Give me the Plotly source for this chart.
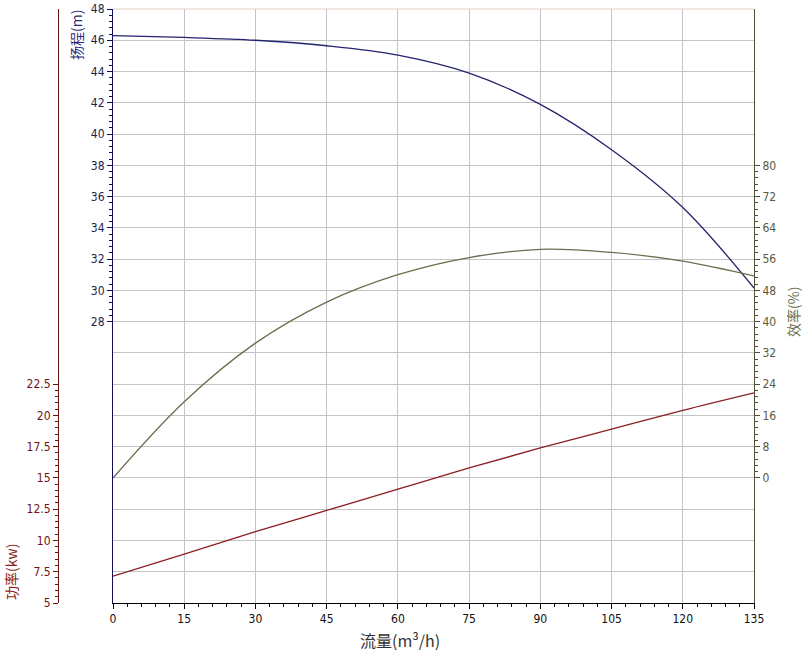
import plotly.graph_objects as go
import numpy as np

# ---- data ----
flow = [0, 15, 30, 45, 60, 75, 90, 105, 120, 135]
head = [46.3, 46.18, 46.0, 45.65, 45.05, 43.9, 41.9, 39.0, 35.3, 30.15]
efficiency = [0, 19.5, 34.5, 45.0, 52.0, 56.4, 58.5, 57.7, 55.5, 51.7]
power = [7.15, 8.9, 10.7, 12.4, 14.1, 15.8, 17.4, 18.9, 20.4, 21.8]

x_ticks = [0, 15, 30, 45, 60, 75, 90, 105, 120, 135]
head_ticks = [28, 30, 32, 34, 36, 38, 40, 42, 44, 46, 48]
power_ticks = [5, 7.5, 10, 12.5, 15, 17.5, 20, 22.5]
eff_ticks = [0, 8, 16, 24, 32, 40, 48, 56, 64, 72, 80]

HEAD_C = "#23236e"
EFF_C = "#6a6e4c"
POW_C = "#8a1e22"
GRID_C = "#c4c4c4"
TICKFONT = "DejaVu Sans Condensed, DejaVu Sans, Arial"
CJK = "Noto Sans CJK SC"

def minors(lo, hi, step, majors):
    vals = np.arange(lo, hi + 1e-9, step)
    return [round(float(v), 3) for v in vals if all(abs(v - m) > 1e-6 for m in majors)]

W, H = 803, 653
ml, mr, mt, mb = 0, 49, 9, 50
pw = W - ml - mr
ph = H - mt - mb
x0 = 113 / pw

fig = go.Figure()
# invisible trace so the grid axis is drawn
fig.add_trace(go.Scatter(x=[None], y=[None], yaxis="y4", showlegend=False, hoverinfo="skip"))
fig.add_trace(go.Scatter(x=flow, y=head, mode="lines", line=dict(color=HEAD_C, width=1.3, shape="spline"),
                         yaxis="y", showlegend=False, hoverinfo="skip"))
fig.add_trace(go.Scatter(x=flow, y=efficiency, mode="lines", line=dict(color=EFF_C, width=1.3, shape="spline"),
                         yaxis="y3", showlegend=False, hoverinfo="skip"))
fig.add_trace(go.Scatter(x=flow, y=power, mode="lines", line=dict(color=POW_C, width=1.3, shape="spline"),
                         yaxis="y2", showlegend=False, hoverinfo="skip"))

fig.update_layout(
    width=W, height=H,
    margin=dict(l=ml, r=mr, t=mt, b=mb, autoexpand=False),
    paper_bgcolor="white", plot_bgcolor="white",
    showlegend=False,
    xaxis=dict(
        domain=[x0, 1], range=[0, 135], tickvals=x_ticks,
        showgrid=True, gridcolor=GRID_C, gridwidth=1,
        showline=True, linecolor="#000000", linewidth=1,
        ticks="outside", ticklen=5, tickcolor="#000000",
        minor=dict(tickvals=minors(0, 135, 3, x_ticks), ticklen=3, tickcolor="#000000", showgrid=False),
        tickfont=dict(family=TICKFONT, size=12, color="#111111"),
        zeroline=False, fixedrange=True,
    ),
    yaxis=dict(
        range=[10, 48], tickvals=head_ticks, anchor="x",
        showgrid=False, zeroline=False,
        showline=True, linecolor="#10105a", linewidth=1,
        ticks="outside", ticklen=5, tickcolor="#10105a",
        minor=dict(tickvals=minors(28, 48, 0.4, head_ticks), ticklen=3, tickcolor="#10105a"),
        tickfont=dict(family=TICKFONT, size=12, color="#1e1e4e"),
    ),
    yaxis2=dict(
        range=[5, 52.5], tickvals=power_ticks, overlaying="y", anchor="free",
        position=58 / pw, side="left",
        showgrid=False, zeroline=False,
        showline=True, linecolor="#6a1010", linewidth=1,
        ticks="outside", ticklen=5, tickcolor="#6a1010",
        minor=dict(tickvals=minors(5, 22.5, 0.5, power_ticks), ticklen=3, tickcolor="#6a1010"),
        tickfont=dict(family=TICKFONT, size=12, color="#6e1418"),
    ),
    yaxis3=dict(
        range=[-32, 120], tickvals=eff_ticks, overlaying="y", anchor="x", side="right",
        showgrid=False, zeroline=False,
        showline=True, linecolor="#505036", linewidth=1,
        ticks="outside", ticklen=5, tickcolor="#505036",
        minor=dict(tickvals=minors(0, 80, 1.6, eff_ticks), ticklen=3, tickcolor="#505036"),
        tickfont=dict(family=TICKFONT, size=12, color="#5a5a3c"),
    ),
    yaxis4=dict(
        range=[0, 19], tickvals=list(range(1, 19)), overlaying="y", anchor="x",
        showgrid=True, gridcolor=GRID_C, gridwidth=1,
        showticklabels=False, ticks="", showline=False, zeroline=False,
    ),
)

# top border line
fig.add_shape(type="line", xref="x domain", yref="y domain", x0=0, x1=1, y0=1, y1=1,
              line=dict(color="#e2cfc6", width=1.2), layer="below")

# axis titles
fig.add_annotation(text="流量(m³/h)", xref="paper", yref="paper", x=(400 - ml) / pw, y=-(640 - (H - mb)) / ph,
                   showarrow=False, font=dict(family=CJK, size=16, color="#333333"), xanchor="center", yanchor="middle")
fig.add_annotation(text="扬程(m)", xref="paper", yref="paper", x=76 / pw, y=1 - (35 - mt) / ph,
                   textangle=-90, showarrow=False, font=dict(family=CJK, size=14, color="#2a2a7a"),
                   xanchor="center", yanchor="middle")
fig.add_annotation(text="功率(kw)", xref="paper", yref="paper", x=11 / pw, y=1 - (572 - mt) / ph,
                   textangle=-90, showarrow=False, font=dict(family=CJK, size=14, color="#8a1e22"),
                   xanchor="center", yanchor="middle")
fig.add_annotation(text="效率(%)", xref="paper", yref="paper", x=793 / pw, y=1 - (312 - mt) / ph,
                   textangle=-90, showarrow=False, font=dict(family=CJK, size=14, color="#6a6e4c"),
                   xanchor="center", yanchor="middle")

fig.write_html("out.html")
